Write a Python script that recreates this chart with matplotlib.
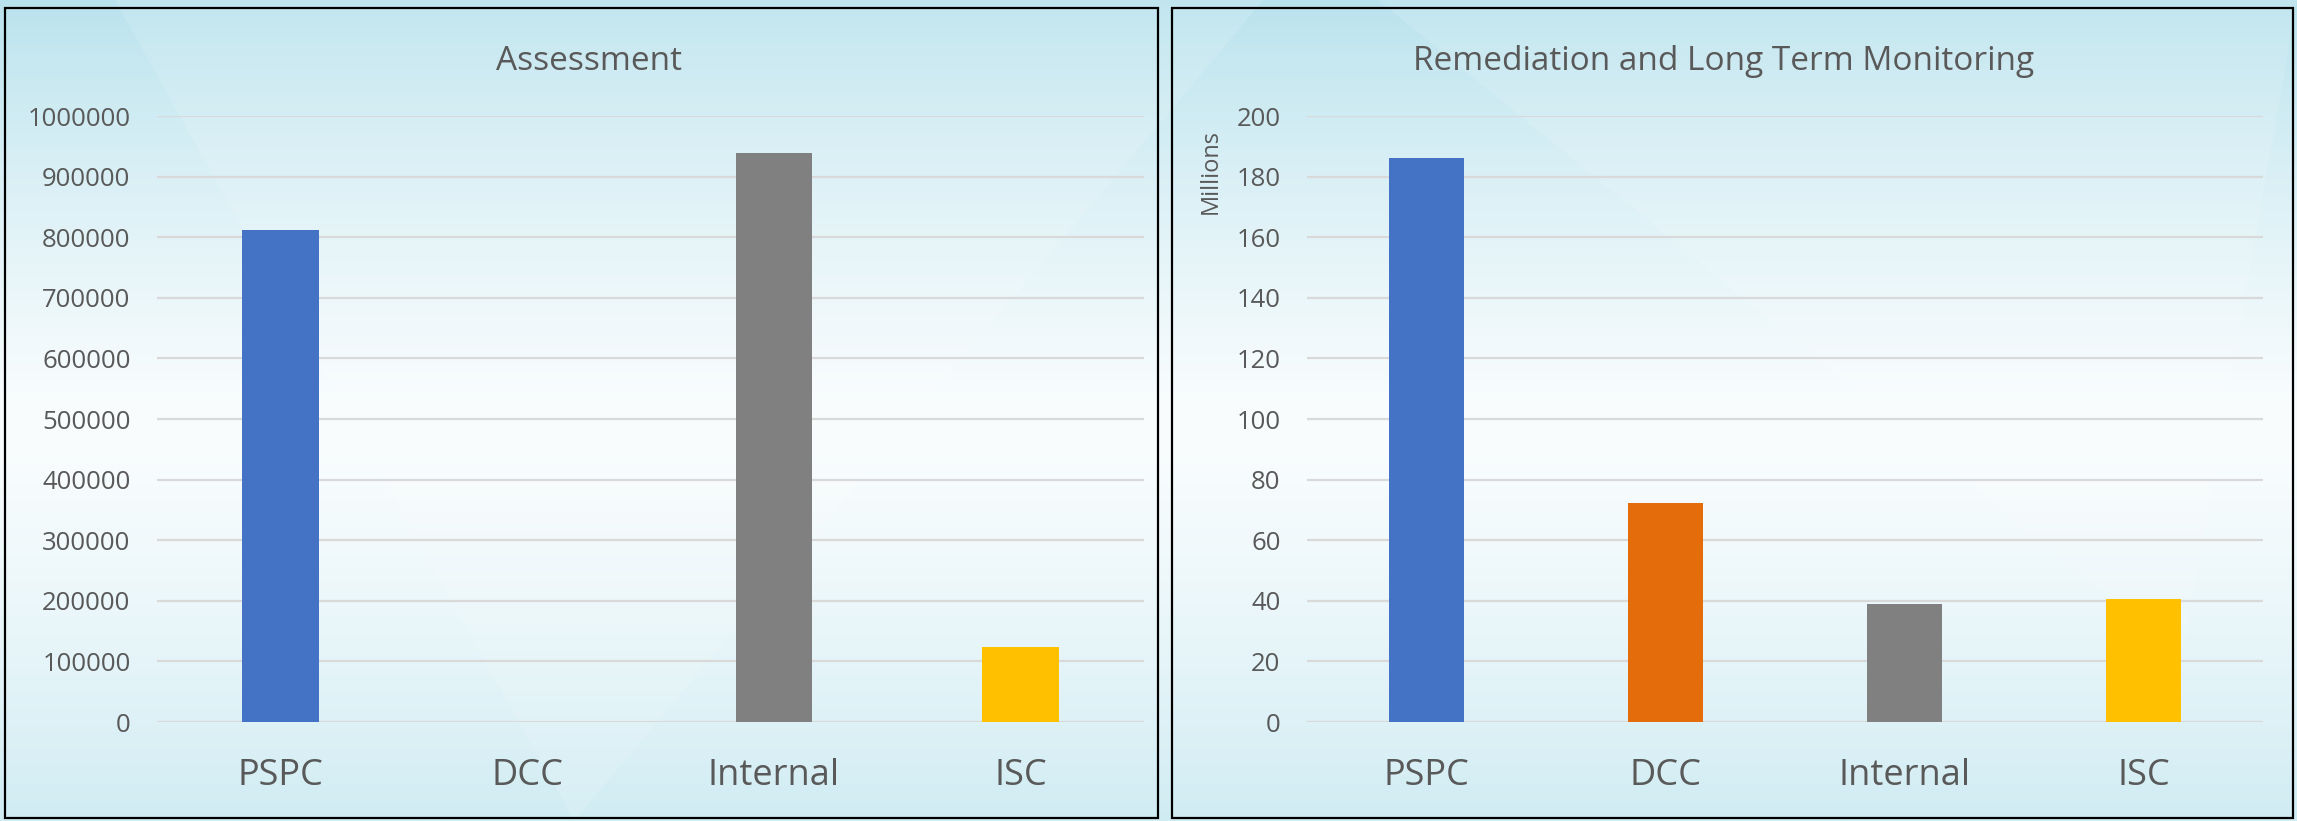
import numpy as np
import matplotlib.pyplot as plt
from matplotlib.patches import Rectangle, Polygon

plt.rcParams['font.family'] = ['Open Sans', 'DejaVu Sans']

# data
categories = ['PSPC', 'DCC', 'Internal', 'ISC']
bar_colors = ['#4472C4', '#E46C0A', '#808080', '#FFC000']
assessment = [812000, 0, 939000, 124000]
remediation = [186.1, 72.4, 39.0, 40.7]  # millions

W, H = 2297, 821
fig = plt.figure(figsize=(W / 100, H / 100), dpi=100)

# background gradient
bg = fig.add_axes([0, 0, 1, 1], zorder=-10)
yy = np.linspace(0, 1, 300)
top = np.array([184, 226, 237]) / 255
mid = np.array([250, 253, 254]) / 255
bot = np.array([208, 236, 243]) / 255
col = np.zeros((300, 3))
for i, t in enumerate(yy):
    if t < 0.5:
        f = (t / 0.5) ** 0.8
        col[i] = top * (1 - f) + mid * f
    else:
        f = ((t - 0.5) / 0.5) ** 1.4
        col[i] = mid * (1 - f) + bot * f
img = np.repeat(col[:, None, :], 2, axis=1)
bg.imshow(img, aspect='auto', extent=[0, 1, 1, 0])
bg.add_patch(Polygon([[0.05, 1], [0.25, 0.0], [0.55, 1]], closed=True,
                     facecolor='white', alpha=0.12, transform=bg.transAxes))
bg.add_patch(Polygon([[0.6, 1], [0.95, 0.2], [1.0, 1]], closed=True,
                     facecolor='white', alpha=0.12, transform=bg.transAxes))
bg.set_xlim(0, 1)
bg.set_ylim(1, 0)
bg.axis('off')

# panel borders
for x0, x1 in [(5, 1158), (1172, 2293)]:
    fig.patches.append(Rectangle((x0 / W, 1 - 818 / H), (x1 - x0) / W, (818 - 8) / H,
                                 transform=fig.transFigure, fill=False,
                                 edgecolor='black', linewidth=1.6, zorder=5))

text_c = '#595959'
grid_c = '#D9D9D9'
y_bot = 1 - 722 / H
ax_h = (722 - 116) / H


def style(ax, ymax, step):
    ax.set_facecolor('none')
    ax.set_xlim(-0.5, 3.5)
    ax.set_ylim(0, ymax)
    ax.set_yticks(np.arange(0, ymax + step / 2, step))
    ax.yaxis.grid(True, color=grid_c, linewidth=1.6)
    ax.set_axisbelow(True)
    for s in ax.spines.values():
        s.set_visible(False)
    ax.tick_params(axis='y', length=0, pad=19, labelsize=18.5, labelcolor=text_c)
    ax.tick_params(axis='x', length=0, pad=26, labelsize=26, labelcolor=text_c)
    ax.set_xticks(range(len(categories)))
    ax.set_xticklabels(categories)


ax1 = fig.add_axes([157 / W, y_bot, (1144 - 157) / W, ax_h])
ax1.bar(range(len(categories)), assessment, width=0.31, color=bar_colors, zorder=3)
style(ax1, 1000000, 100000)
ax1.yaxis.set_major_formatter(plt.FuncFormatter(lambda v, p: '%d' % v))

ax2 = fig.add_axes([1307 / W, y_bot, (2263 - 1307) / W, ax_h])
ax2.bar(range(len(categories)), remediation, width=0.31, color=bar_colors, zorder=3)
style(ax2, 200, 20)

fig.text(589 / W, 1 - 70 / H, 'Assessment', ha='center', va='baseline',
         fontsize=24, color=text_c)
fig.text(1724 / W, 1 - 70 / H, 'Remediation and Long Term Monitoring', ha='center',
         va='baseline', fontsize=24, color=text_c)
fig.text(1211 / W, 1 - 172 / H, 'Millions', rotation=90, ha='center', va='center',
         fontsize=17, color=text_c)

fig.savefig('out.png', dpi=100)
